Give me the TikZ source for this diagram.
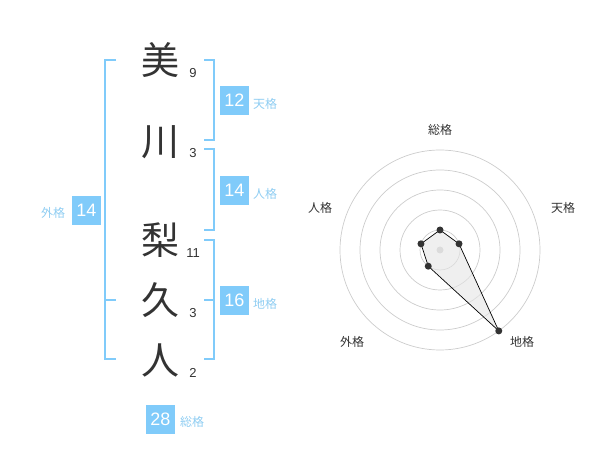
\documentclass[tikz,border=0pt]{standalone}
\usepackage{fontspec}
\setmainfont{Liberation Sans}
\newfontfamily\jp{Noto Sans CJK JP}
\definecolor{kakublue}{HTML}{80CBFA}
\definecolor{kakulabel}{HTML}{8FCDF2}
\definecolor{inkgray}{HTML}{333333}
\definecolor{ringgray}{HTML}{CCCCCC}

\begin{document}
\begin{tikzpicture}
			[x=1pt,y=-1pt,
			kanji/.style={font=\jp\fontsize{38}{38}\selectfont,text=inkgray,inner sep=0pt},
			strokes/.style={font=\fontsize{13}{13}\selectfont,text=inkgray,inner sep=0pt},
			kakubox/.style={fill=kakublue,text=white,minimum size=29pt,inner sep=0pt,font=\fontsize{18}{18}\selectfont},
			kakuname/.style={font=\jp\fontsize{12}{12}\selectfont,text=kakulabel,inner sep=0pt},
			bracket/.style={draw=kakublue,line width=1.6pt},
			axisname/.style={font=\jp\fontsize{12}{12}\selectfont,text=inkgray,inner sep=0pt},
			ring/.style={draw=ringgray,line width=.7pt},
			dot/.style={circle,fill=inkgray,inner sep=0pt,minimum size=7pt}]
			\useasboundingbox (0,0) rectangle (600,470);
			% name
			\node (mi)[kanji] at (160,60) {美};
			\node (kawa)[kanji] at (160,142) {川};
			\node (ri)[kanji] at (160,240) {梨};
			\node (hisa)[kanji] at (160,300) {久};
			\node (hito)[kanji] at (160,360) {人};
			\node (n1)[strokes] at (193,73) {9};
			\node (n2)[strokes] at (193,153) {3};
			\node (n3)[strokes] at (193,253) {11};
			\node (n4)[strokes] at (193,313) {3};
			\node (n5)[strokes] at (193,373) {2};
			% brackets
			\draw[bracket] (116,60) -- (105,60) -- (105,359) -- (116,359);
			\draw[bracket] (105,300) -- (116,300);
			\draw[bracket] (204,60) -- (214,60) -- (214,140) -- (204,140);
			\draw[bracket] (204,149) -- (214,149) -- (214,230) -- (204,230);
			\draw[bracket] (204,240) -- (214,240) -- (214,359) -- (204,359);
			\draw[bracket] (214,300) -- (204,300);
			% kaku
			\node (ten)[kakubox] at (234.5,100.5) {12};
			\node (jin)[kakubox] at (234.5,190.5) {14};
			\node (chi)[kakubox] at (234.5,300.5) {16};
			\node (gai)[kakubox] at (86.5,210.5) {14};
			\node (sou)[kakubox] at (160.5,419) {28};
			\node (tenname)[kakuname,anchor=west] at (253,104) {天格};
			\node (jinname)[kakuname,anchor=west] at (253,194) {人格};
			\node (chiname)[kakuname,anchor=west] at (253,304) {地格};
			\node (gainame)[kakuname] at (53,213) {外格};
			\node (souname)[kakuname] at (192,422) {総格};
			% radar
			\begin{scope}[shift={(440,250)}]
				\foreach \r in {20,40,60,80,100}
					\draw[ring] (0,0) circle (\r);
				\fill[ringgray] (0,0) circle (3.5);
				\coordinate (pSou) at (-90:20);
				\coordinate (pTen) at (-18:20);
				\coordinate (pChi) at (54:100);
				\coordinate (pGai) at (126:20);
				\coordinate (pJin) at (198:20);
				\draw[black,line width=.7pt,fill=black!10,fill opacity=.6]
					(pSou) -- (pTen) -- (pChi) -- (pGai) -- (pJin) -- cycle;
				\foreach \p in {pSou,pTen,pChi,pGai,pJin}
					\node[dot] at (\p) {};
				\node (aSou)[axisname] at (0,-120) {総格};
				\node (aTen)[axisname] at (123,-42) {天格};
				\node (aChi)[axisname] at (82,92) {地格};
				\node (aGai)[axisname] at (-88,92) {外格};
				\node (aJin)[axisname] at (-120,-42) {人格};
			\end{scope}
	\end{tikzpicture}
\end{document}
